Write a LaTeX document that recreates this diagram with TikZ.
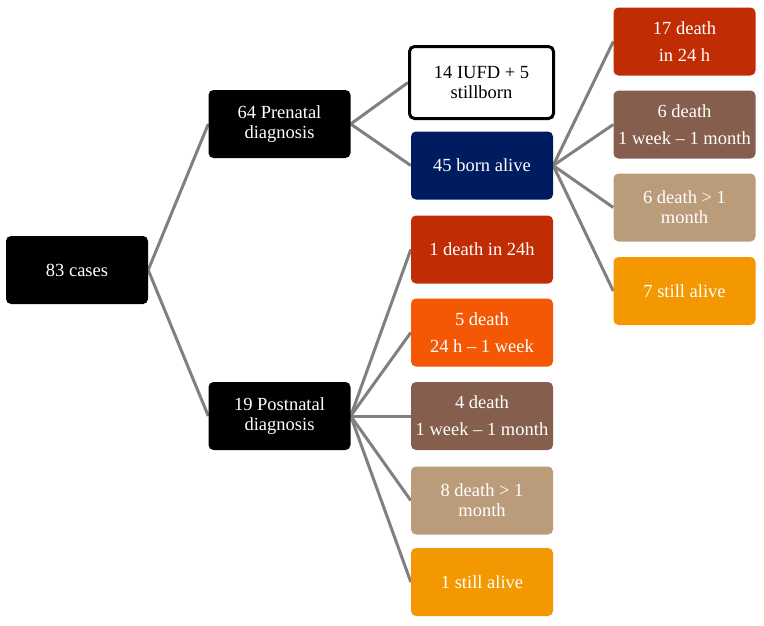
\documentclass[tikz,border=0pt]{standalone}
\usepackage{fontspec}
\setmainfont{Liberation Serif}
\usetikzlibrary{positioning, backgrounds}
\definecolor{bornNavy}{HTML}{001C60}
\definecolor{deathRed}{HTML}{C02D05}
\definecolor{deathOrange}{HTML}{F55805}
\definecolor{deathBrown}{HTML}{855E4D}
\definecolor{deathTan}{HTML}{BB9C7A}
\definecolor{aliveAmber}{HTML}{F39800}
\definecolor{linkGray}{HTML}{808080}

\begin{document}
\begin{tikzpicture}[
    x=1pt, y=-1pt,
    box/.style={rounded corners=5pt, minimum width=142pt, minimum height=68pt, inner sep=1pt, align=center, text=white, font=\fontsize{18.5}{20}\selectfont},
    link/.style={draw=linkGray, line width=3pt},
  ]
    \useasboundingbox (0,0) rectangle (764,625);

    % root and diagnosis level
    \node[box, fill=black] (cases) at (77,270) {83 cases};
    \node[box, fill=black] (pre) at (279.5,124) {64 Prenatal\\diagnosis};
    \node[box, fill=black] (post) at (279.5,416) {19 Postnatal\\diagnosis};

    % prenatal outcome
    \node[box, fill=white, draw=black, line width=3pt, text=black, minimum width=144pt, minimum height=72pt] (iufd) at (481.5,82.5) {14 IUFD + 5\\stillborn};
    \node[box, fill=bornNavy] (born) at (482,165.5) {45 born alive};

    % born alive outcome
    \foreach \i/\y/\c/\t in {1/41.5/deathRed/{17 death\\[7pt]in 24 h},
                             2/124.5/deathBrown/{6 death\\[7pt]1 week -- 1 month},
                             3/207.5/deathTan/{6 death > 1\\month},
                             4/291/aliveAmber/{7 still alive}} {
      \node[box, fill=\c] (b\i) at (684.5,\y) {\t};
    }

    % postnatal outcome
    \foreach \i/\y/\c/\t in {1/249.5/deathRed/{1 death in 24h},
                             2/332.5/deathOrange/{5 death\\[7pt]24 h -- 1 week},
                             3/416/deathBrown/{4 death\\[7pt]1 week -- 1 month},
                             4/500.5/deathTan/{8 death > 1\\month},
                             5/582/aliveAmber/{1 still alive}} {
      \node[box, fill=\c] (p\i) at (482,\y) {\t};
    }

    \begin{scope}[on background layer]
      \draw[link] (cases.east) -- (pre.west);
      \draw[link] (cases.east) -- (post.west);
      \draw[link] (pre.east) -- (iufd.west);
      \draw[link] (pre.east) -- (born.west);
      \foreach \i in {1,...,4}
        \draw[link] (born.east) -- (b\i.west);
      \foreach \i in {1,...,5}
        \draw[link] (post.east) -- (p\i.west);
    \end{scope}
\end{tikzpicture}
\end{document}
